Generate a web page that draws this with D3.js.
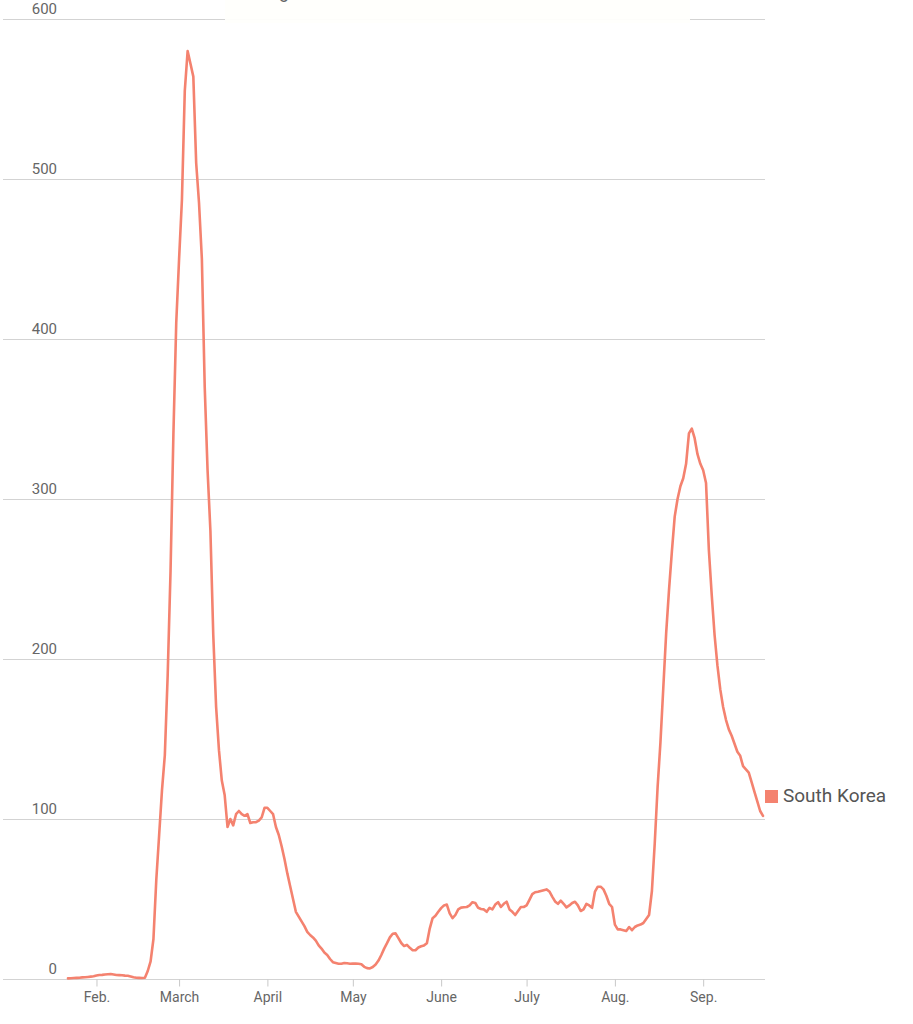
<!DOCTYPE html>
<html>
<head>
<meta charset="utf-8">
<script src="https://cdn.jsdelivr.net/npm/d3@7"></script>
<style>
  html, body { margin: 0; padding: 0; background: #fff; }
  svg { display: block; }
  text { font-family: Roboto, "Liberation Sans", sans-serif; }
</style>
</head>
<body>
<svg id="chart" width="913" height="1024"></svg>
<script>
// ---- data ----
const seriesName = "South Korea";
const titleFragment = "Trailing";
const startDate = "2020-01-22";
// seven-day average of daily new cases, one value per day from startDate
const values = [
  0.4, 0.5, 0.6, 0.7, 0.8, 1, 1.1, 1.3, 1.5, 1.7,
  2.2, 2.5, 2.6, 2.8, 3, 3.1, 2.8, 2.5, 2.4, 2.3,
  2.1, 2, 1.6, 1.1, 0.8, 0.7, 0.6, 0.8, 5, 11,
  25, 62, 90, 118, 140, 190, 255, 340, 410, 450,
  487, 555, 580, 572, 564, 510, 485, 450, 370, 318,
  280, 215, 170, 143, 124, 115, 95, 100, 96, 103,
  105, 103, 102, 103, 97.5, 98, 98, 99, 101, 107,
  107, 105, 103, 95, 90, 83, 75, 66, 58, 50,
  42, 39, 36, 33, 29.5, 27.5, 26, 24, 21, 19,
  16.5, 15, 12.5, 10.5, 10, 9.5, 9.5, 10, 9.8, 9.5,
  9.6, 9.7, 9.5, 9.2, 7.6, 6.8, 6.6, 7.5, 9, 11.5,
  15, 19, 22.4, 26, 28.3, 28.5, 25.5, 22.5, 20.6, 21.3,
  19.5, 18, 18, 19.7, 20.5, 21, 22.3, 31.5, 38, 39.5,
  42, 44.3, 46, 46.5, 41, 38, 40, 43.5, 44.6, 44.8,
  45, 46, 48, 47.5, 44.5, 43.8, 43.5, 42, 44.5, 43.5,
  46.5, 48, 45, 47, 48.3, 43.5, 42, 40, 42.5, 45,
  45, 46, 49.5, 53, 54.2, 54.5, 55, 55.5, 56, 54.7,
  51.5, 48.5, 47, 49, 47, 44.8, 46, 47.5, 48.3, 46,
  42.5, 43.5, 47, 46, 44.5, 54.6, 57.7, 57.7, 56, 52,
  47, 45, 34, 31, 31, 30.5, 30, 32.5, 30.5, 32.5,
  33.5, 34, 35, 37.5, 40, 55, 85, 120, 148, 182,
  216, 243, 267, 289, 300, 308, 313, 322, 341, 344,
  338, 328, 322, 318, 310, 268, 240, 215, 196, 181,
  170, 162, 156, 152, 147, 142, 139.5, 133, 131, 129,
  123, 117, 111, 105, 102
];
const yTicks = [0, 100, 200, 300, 400, 500, 600];
const xTickDates = ["2020-02-01", "2020-03-01", "2020-04-01", "2020-05-01",
                    "2020-06-01", "2020-07-01", "2020-08-01", "2020-09-01"];
const xTickLabels = ["Feb.", "March", "April", "May", "June", "July", "Aug.", "Sep."];

// ---- build ----
const parse = d3.utcParse("%Y-%m-%d");
const start = parse(startDate);
const data = values.map((v, i) => ({ date: d3.utcDay.offset(start, i), value: v }));
const endDate = data[data.length - 1].date;

const svg = d3.select("#chart");
const color = "#f4826f";

const x = d3.scaleUtc().domain([start, endDate]).range([68, 763]);
const y = d3.scaleLinear().domain([0, 600]).range([979, 19]);

// gridlines
svg.append("g")
  .selectAll("line")
  .data(yTicks)
  .join("line")
  .attr("x1", 3).attr("x2", 765)
  .attr("y1", d => y(d) + 0.5).attr("y2", d => y(d) + 0.5)
  .attr("stroke", "#d3d3d3").attr("stroke-width", 1);

// faint header box covering part of top gridline
svg.append("rect")
  .attr("x", 225).attr("y", 0).attr("width", 465).attr("height", 23)
  .attr("fill", "#fffffc").attr("opacity", 0.95);

// title (mostly above the visible area)
svg.append("text")
  .attr("x", 289).attr("y", -2)
  .attr("text-anchor", "end")
  .attr("font-size", 18)
  .attr("fill", "#666")
  .text(titleFragment);

// y labels
svg.append("g")
  .selectAll("text")
  .data(yTicks)
  .join("text")
  .attr("x", 57).attr("y", d => y(d) - 5)
  .attr("text-anchor", "end")
  .attr("font-size", 15)
  .attr("fill", "#666")
  .text(d => d);

// x axis
const xAxis = d3.axisBottom(x)
  .tickValues(xTickDates.map(parse))
  .tickFormat((d, i) => xTickLabels[i])
  .tickSize(7)
  .tickSizeOuter(0);

const gx = svg.append("g")
  .attr("transform", `translate(0,${y(0) + 0.5})`)
  .call(xAxis);
gx.select(".domain").remove();
gx.selectAll(".tick line").attr("stroke", "#c8c8c8");
gx.selectAll(".tick text")
  .attr("font-size", 14)
  .attr("font-family", "Roboto, 'Liberation Sans', sans-serif")
  .attr("fill", "#666")
  .attr("dy", "0")
  .attr("y", 22);

// line
const line = d3.line()
  .x(d => x(d.date))
  .y(d => y(d.value))
  .curve(d3.curveLinear);

svg.append("path")
  .datum(data)
  .attr("d", line)
  .attr("fill", "none")
  .attr("stroke", color)
  .attr("stroke-width", 2.6)
  .attr("stroke-linejoin", "round")
  .attr("stroke-linecap", "round");

// legend
svg.append("rect")
  .attr("x", 765).attr("y", 790).attr("width", 13).attr("height", 13)
  .attr("fill", color);
svg.append("text")
  .attr("x", 783).attr("y", 802)
  .attr("font-size", 19)
  .attr("fill", "#555")
  .text(seriesName);
</script>
</body>
</html>
